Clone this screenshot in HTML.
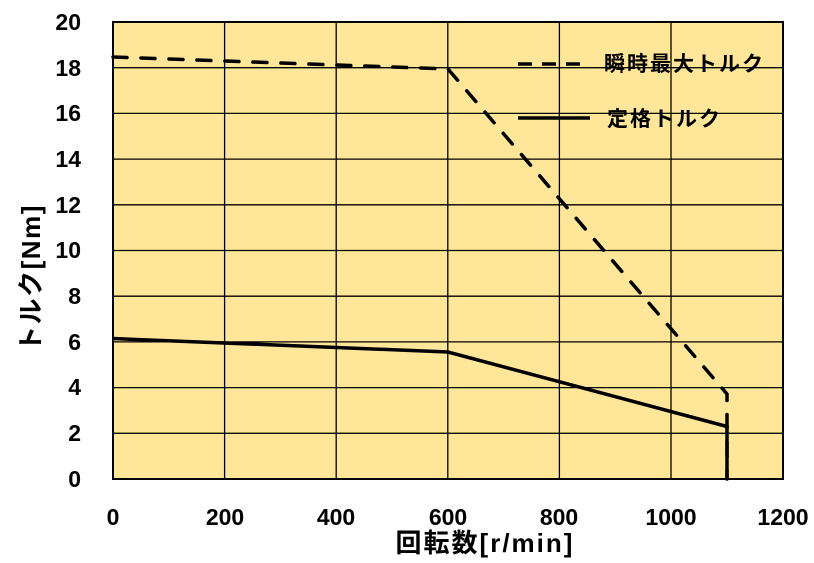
<!DOCTYPE html><html><head><meta charset="utf-8"><style>body{margin:0;background:#fff}svg{display:block}text{font-family:"Liberation Sans","Noto Sans CJK JP",sans-serif;font-weight:bold;fill:#000}</style></head><body>
<svg width="814" height="563" xmlns="http://www.w3.org/2000/svg">
<rect x="113" y="22" width="670" height="457" fill="#FFE699"/>
<g stroke="#000" stroke-width="1.3">
<line x1="224.6" y1="22" x2="224.6" y2="479"/><line x1="336.2" y1="22" x2="336.2" y2="479"/><line x1="447.8" y1="22" x2="447.8" y2="479"/><line x1="559.4" y1="22" x2="559.4" y2="479"/><line x1="671" y1="22" x2="671" y2="479"/>
<line x1="113" y1="67.7" x2="783" y2="67.7"/><line x1="113" y1="113.4" x2="783" y2="113.4"/><line x1="113" y1="159.1" x2="783" y2="159.1"/><line x1="113" y1="204.8" x2="783" y2="204.8"/><line x1="113" y1="250.5" x2="783" y2="250.5"/><line x1="113" y1="296.2" x2="783" y2="296.2"/><line x1="113" y1="341.9" x2="783" y2="341.9"/><line x1="113" y1="387.6" x2="783" y2="387.6"/><line x1="113" y1="433.3" x2="783" y2="433.3"/>
<rect x="113" y="22" width="670" height="457" fill="none" stroke-width="2"/>
</g>
<polyline points="113,57 448,69 727,394 727,479" fill="none" stroke="#000" stroke-width="3.5" stroke-dasharray="14,14" stroke-linecap="round"/>
<polyline points="113,338.5 448,352 727,426.5 727,479" fill="none" stroke="#000" stroke-width="3.5"/>
<line x1="518" y1="64" x2="586" y2="64" stroke="#000" stroke-width="3.5" stroke-dasharray="14,10"/>
<text x="604" y="71" font-size="21" letter-spacing="2">瞬時最大トルク</text>
<line x1="518" y1="118" x2="590" y2="118" stroke="#000" stroke-width="3.5"/>
<text x="607" y="126" font-size="21" letter-spacing="2">定格トルク</text>
<g font-size="23" text-anchor="end">
<text x="81" y="30">20</text><text x="81" y="76">18</text><text x="81" y="121">16</text><text x="81" y="167">14</text><text x="81" y="213">12</text><text x="81" y="258">10</text><text x="81" y="304">8</text><text x="81" y="350">6</text><text x="81" y="395">4</text><text x="81" y="441">2</text><text x="81" y="487">0</text>
</g>
<g font-size="23" text-anchor="middle">
<text x="113" y="525">0</text><text x="225" y="525">200</text><text x="336" y="525">400</text><text x="448" y="525">600</text><text x="559" y="525">800</text><text x="671" y="525">1000</text><text x="783" y="525">1200</text>
</g>
<text x="485" y="552" font-size="26" letter-spacing="2" text-anchor="middle">回転数[r/min]</text>
<text transform="translate(40,278) rotate(-90)" font-size="26" letter-spacing="1.5" text-anchor="middle">トルク[Nm]</text>
</svg></body></html>
